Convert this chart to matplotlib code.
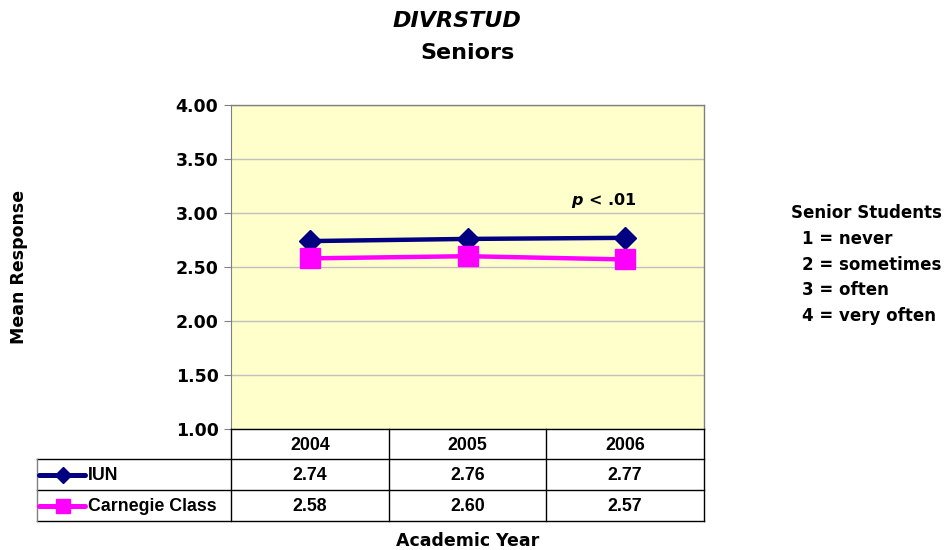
import matplotlib
matplotlib.use("Agg")
import matplotlib.pyplot as plt
from matplotlib.lines import Line2D

plt.rcParams['font.family'] = ['DejaVu Sans']
table_font = ['Liberation Sans', 'DejaVu Sans']

years = ["2004", "2005", "2006"]
iun = [2.74, 2.76, 2.77]
carnegie = [2.58, 2.60, 2.57]
series_names = ["IUN", "Carnegie Class"]
yticks = [1.00, 1.50, 2.00, 2.50, 3.00, 3.50, 4.00]
scale_lines = ["1 = never", "2 = sometimes", "3 = often", "4 = very often"]

W, H = 948, 550
fig = plt.figure(figsize=(W / 100, H / 100), dpi=100)

def fx(px):
    return px / W

def fy(py):
    return 1 - py / H

ax_l, ax_r, ax_t, ax_b = 231, 704, 105, 429
ax = fig.add_axes([fx(ax_l), fy(ax_b), fx(ax_r - ax_l), fy(ax_t) - fy(ax_b)])
ax.set_facecolor("#FFFFCC")
x = list(range(len(years)))
ax.plot(x, iun, color="#000080", lw=3.2, marker="D", ms=11, zorder=3)
ax.plot(x, carnegie, color="#FF00FF", lw=3.2, marker="s", ms=14, zorder=3)
ax.set_xlim(-0.5, len(years) - 0.5)
ax.set_ylim(1, 4)
ax.set_yticks(yticks)
ax.set_yticklabels([f"{v:.2f}" for v in yticks], fontsize=12.5, fontweight="bold")
ax.set_xticks([])
ax.grid(axis="y", color="#C0C0C0", lw=1)
ax.set_axisbelow(True)
for s in ["top", "right", "bottom"]:
    ax.spines[s].set_visible(False)
ax.spines["left"].set_color("#808080")
ax.tick_params(axis="y", length=5, color="#808080", pad=4)
ax.plot([-0.5, 2.5], [4, 4], color="#808080", lw=1, clip_on=False)
ax.plot([2.5, 2.5], [1, 4], color="#808080", lw=1, clip_on=False)

ax.text(2.07, 3.03, r"$\boldsymbol{p}$ < .01", fontsize=11.5, fontweight="bold",
        ha="right", va="bottom")

# Table
lc = "black"
row_y = [429, 459, 490, 521]
col_x = [ax_l + (ax_r - ax_l) * i / len(years) for i in range(len(years) + 1)]
left_x = 37
def hline(y, x0, x1, color=lc, lw=1):
    fig.add_artist(Line2D([fx(x0), fx(x1)], [fy(y), fy(y)], color=color, lw=lw))
def vline(x0, y0, y1, color=lc, lw=1):
    fig.add_artist(Line2D([fx(x0), fx(x0)], [fy(y0), fy(y1)], color=color, lw=lw))

hline(row_y[0], ax_l, ax_r)
for y in row_y[1:]:
    hline(y, left_x, ax_r)
for cx in col_x:
    vline(cx, row_y[0], row_y[3])
vline(left_x, row_y[1], row_y[3], color="#808080")

tfs = 12.8
for i, yr in enumerate(years):
    cx = (col_x[i] + col_x[i + 1]) / 2
    fig.text(fx(cx), fy((row_y[0] + row_y[1]) / 2 + 1), yr, ha="center", va="center",
             fontsize=tfs, fontweight="bold", family=table_font)
    fig.text(fx(cx), fy((row_y[1] + row_y[2]) / 2 + 1), f"{iun[i]:.2f}", ha="center",
             va="center", fontsize=tfs, fontweight="bold", family=table_font)
    fig.text(fx(cx), fy((row_y[2] + row_y[3]) / 2 + 1), f"{carnegie[i]:.2f}", ha="center",
             va="center", fontsize=tfs, fontweight="bold", family=table_font)

styles = [("#000080", "D", 8), ("#FF00FF", "s", 10)]
for r, (name, (c, m, ms)) in enumerate(zip(series_names, styles)):
    yc = fy((row_y[r + 1] + row_y[r + 2]) / 2)
    fig.add_artist(Line2D([fx(39), fx(85)], [yc, yc], color=c, lw=3.6,
                          solid_capstyle="round"))
    fig.add_artist(Line2D([fx(63)], [yc], color=c, marker=m, ms=ms, lw=0))
    fig.text(fx(88), fy((row_y[r + 1] + row_y[r + 2]) / 2 + 1), name, ha="left",
             va="center", fontsize=tfs, fontweight="bold", family=table_font)

# Titles and labels
fig.text(fx(457), fy(21), "DIVRSTUD", ha="center", va="center", fontsize=16,
         fontweight="bold", style="italic")
fig.text(fx(468), fy(53), "Seniors", ha="center", va="center", fontsize=16,
         fontweight="bold")
fig.text(fx(19), fy(267), "Mean Response", ha="center", va="center", rotation=90,
         fontsize=12.5, fontweight="bold")
fig.text(fx(468), fy(541), "Academic Year", ha="center", va="center",
         fontsize=12.5, fontweight="bold")

fig.text(fx(791), fy(213), "Senior Students", ha="left", va="center",
         fontsize=12, fontweight="bold")
for i, t in enumerate(scale_lines):
    fig.text(fx(802), fy(239 + 25.7 * i), t, ha="left", va="center",
             fontsize=12, fontweight="bold")

fig.savefig("out.png", dpi=100, facecolor="white")
